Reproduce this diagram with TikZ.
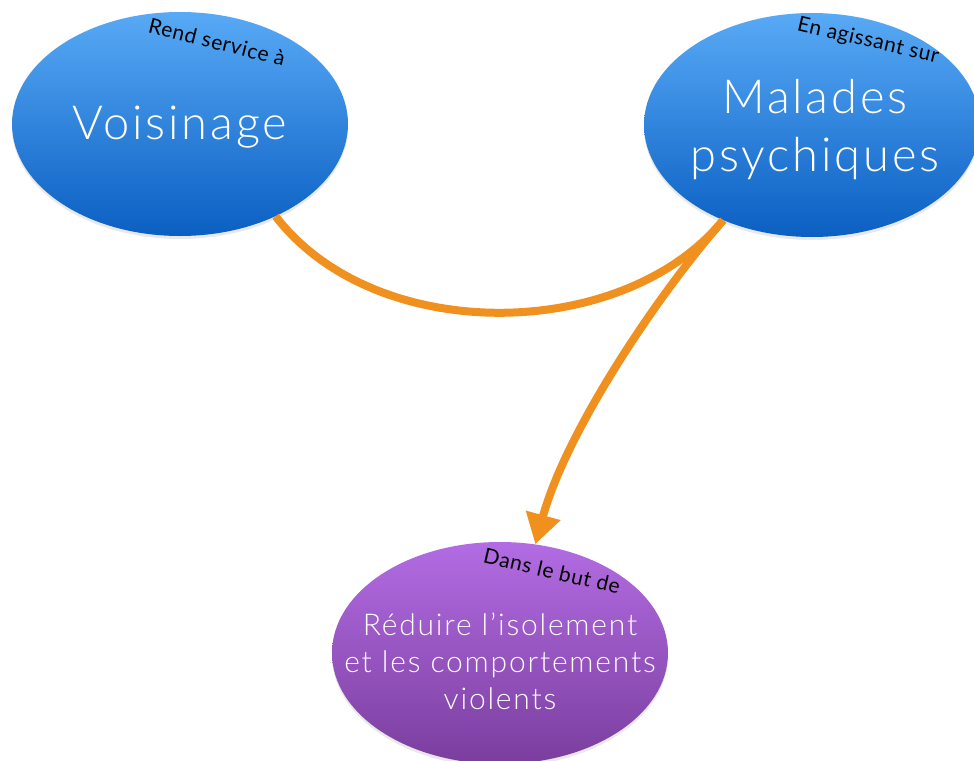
\documentclass[tikz,border=0pt]{standalone}
\usepackage{fontspec}
\setmainfont{Lato}
\newfontfamily\lightfont{Lato Light}[LetterSpace=6]
\newfontfamily\tagfont{Lato}[LetterSpace=3]
\usetikzlibrary{shapes.geometric,arrows.meta,shadows}
\definecolor{blueTop}{HTML}{58AAF6}
\definecolor{blueBot}{HTML}{0A5FC2}
\definecolor{purpTop}{HTML}{B36CE3}
\definecolor{purpBot}{HTML}{7A3E9E}
\definecolor{linkOrange}{HTML}{F0901E}
\begin{document}
\begin{tikzpicture}[x=1pt,y=-1pt,
  bubble/.style={ellipse, inner sep=0pt, draw=none, minimum width=336pt, minimum height=224pt,
    drop shadow={opacity=0.18, shadow xshift=0pt, shadow yshift=-3pt}},
  bluebub/.style={bubble, top color=blueTop, bottom color=blueBot},
  purpbub/.style={bubble, minimum height=222pt, top color=purpTop, bottom color=purpBot},
  bigtext/.style={text=white, align=center, inner sep=0pt},
  tag/.style={font=\tagfont\fontsize{21}{24}\selectfont, text=black, inner sep=0pt},
  link/.style={draw=linkOrange, line width=8pt}
]
\useasboundingbox (0,0) rectangle (974,760);
\fill[white] (0,0) rectangle (974,760);

\node[bluebub] (v) at (180,124) {};
\node[bluebub] (m) at (812,125) {};
\node[purpbub] (p) at (500,653) {};

\node[bigtext, font=\lightfont\fontsize{47}{56}\selectfont] (vt) at (180,127) {Voisinage};
\node[bigtext, font=\lightfont\fontsize{47}{58}\selectfont] (mt) at (815,130) {Malades\\psychiques};
\node[bigtext, font=\lightfont\fontsize{30}{37}\selectfont] (pt) at (500,661) {Réduire l’isolement\\et les comportements\\violents};

\node[tag, rotate=-14] (t1) at (217,42) {Rend service à};
\node[tag, rotate=-13] (t2) at (868,41) {En agissant sur};
\node[tag, rotate=-13] (t3) at (552,571) {Dans le but de};

\draw[link] (v.-44) .. controls +(100,130) and +(-100,122) .. (m.-133);
\draw[link, -{Triangle[width=34pt,length=30pt]}] (m.-133) .. controls +(-70,80) and +(30,-110) .. (p.72);
\end{tikzpicture}
\end{document}
